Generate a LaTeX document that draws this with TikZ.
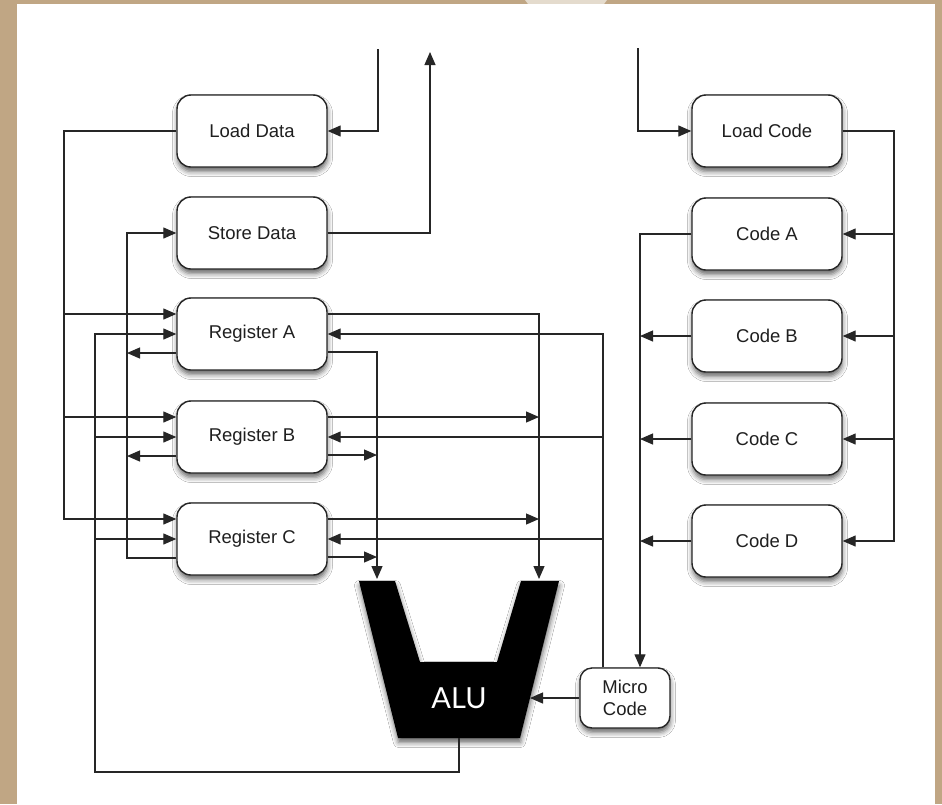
\documentclass[tikz,border=0pt]{standalone}
\usepackage{fontspec}
\setmainfont{Liberation Sans}
\newfontfamily\alufont{Lato}
\usetikzlibrary{arrows.meta,calc,shadows.blur}
\definecolor{frametan}{RGB}{192,166,132}
\definecolor{framelight}{RGB}{228,219,205}
\definecolor{wirecol}{RGB}{38,38,38}

\begin{document}
\begin{tikzpicture}[x=1pt,y=-1pt,
  softshadow/.style={blur shadow={shadow xshift=0.5pt, shadow yshift=-4.5pt,
      shadow blur radius=5pt, shadow opacity=60}},
  unit/.style={draw=black!85, line width=1.4pt, fill=white, rounded corners=14pt,
      minimum width=150pt, minimum height=72pt, inner sep=0pt,
      text=black!88, font=\fontsize{18.5}{22}\selectfont, softshadow},
  wire/.style={draw=wirecol, line width=1.2pt},
  arr/.style={wire, -{Triangle[length=13pt,width=11pt]}},
]
\useasboundingbox (0,0) rectangle (942,804);

% frame and page
\fill[frametan] (0,0) rectangle (942,804);
\fill[framelight] (525,0) -- (607,0) -- (604,4) -- (528,4) -- cycle;
\fill[white] (17,4) rectangle (935,804);

% data side
\node[unit] (ld) at (252,131) {Load Data};
\node[unit] (sd) at (252,233) {Store Data};
\node[unit] (ra) at (252,334) {Register A};
\node[unit] (rb) at (252,437) {Register B};
\node[unit] (rc) at (252,539) {Register C};

% code side
\node[unit] (lc) at (767,131) {Load Code};
\node[unit] (ca) at (767,234) {Code A};
\node[unit] (cb) at (767,336) {Code B};
\node[unit] (cc) at (767,439) {Code C};
\node[unit] (cd) at (767,541) {Code D};

\node[unit, minimum width=90pt, minimum height=60pt, rounded corners=12pt,
      align=center] (mc) at (625,698) {Micro\\Code};

% ALU body
\fill[black, softshadow] (359,581) -- (395,581) -- (420,662) -- (497,662)
   -- (521,581) -- (559,581) -- (520,738) -- (398,738) -- cycle;
\node[text=white, font=\alufont\fontsize{29}{30}\selectfont] (alu) at (459,698) {ALU};

% ports and bus positions
\coordinate (aluA) at (377,579);
\coordinate (aluB) at (539,579);
\coordinate (aluR) at (530,698);
\coordinate (aluOut) at (459,738);
\coordinate (fbCorner) at (95,772);
\coordinate (dataIn) at (378,49);
\coordinate (dataOut) at (430,52);
\coordinate (codeIn) at (638,48);
\coordinate (busL1) at (64,0);
\coordinate (busL2) at (127,0);
\coordinate (busL3) at (95,0);
\coordinate (busR1) at (603,0);
\coordinate (busC1) at (640,0);
\coordinate (busC2) at (894,0);

\foreach \r in {ra,rb,rc}{
  \coordinate (\r-r1) at ($(\r.east)+(0,-20)$);
  \coordinate (\r-r3) at ($(\r.east)+(0,18)$);
  \coordinate (\r-l1) at ($(\r.west)+(0,-20)$);
  \coordinate (\r-l3) at ($(\r.west)+(0,19)$);
}

% memory interface
\draw[arr] (dataIn) |- (ld.east);
\draw[arr] (sd.east) -| (dataOut);
\draw[arr] (codeIn) |- (lc.west);

% code loading bus
\draw[arr] (lc.east) -| (busC2 |- cd.east) -- (cd.east);
\foreach \n in {ca,cb,cc} \draw[arr] (busC2 |- \n.east) -- (\n.east);

% code to micro code
\draw[arr] (ca.west) -| (busC1 |- mc.north);
\foreach \n in {cb,cc,cd} \draw[arr] (\n.west) -- (busC1 |- \n.west);

% micro code control
\draw[arr] (mc.west) -- (aluR);
\draw[arr] (busR1 |- mc.north) |- (ra.east);
\foreach \n in {rb,rc} \draw[arr] (busR1 |- \n.east) -- (\n.east);

% register outputs to ALU inputs
\draw[arr] (ra-r1) -| (aluB);
\draw[arr] (ra-r3) -| (aluA);
\foreach \n in {rb,rc}{
  \draw[arr] (\n-r1) -- (\n-r1 -| aluB);
  \draw[arr] (\n-r3) -- (\n-r3 -| aluA);
}

% load data bus
\draw[arr] (ld.west) -| (busL1 |- rc-l1) -- (rc-l1);
\foreach \n in {ra,rb} \draw[arr] (busL1 |- \n-l1) -- (\n-l1);

% store data bus
\draw[arr] (rc-l3) -| (busL2 |- sd.west) -- (sd.west);
\foreach \n in {ra,rb} \draw[arr] (\n-l3) -- (\n-l3 -| busL2);

% ALU result feedback
\draw[arr] (aluOut) |- (fbCorner) |- (ra.west);
\foreach \n in {rb,rc} \draw[arr] (busL3 |- \n.west) -- (\n.west);
\end{tikzpicture}
\end{document}
